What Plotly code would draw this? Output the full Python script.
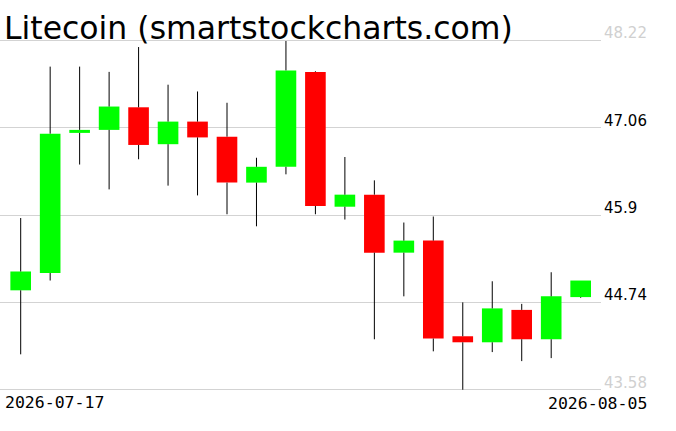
import plotly.graph_objects as go

dates = ["2026-07-17", "2026-07-18", "2026-07-19", "2026-07-20", "2026-07-21",
         "2026-07-22", "2026-07-23", "2026-07-24", "2026-07-25", "2026-07-26",
         "2026-07-27", "2026-07-28", "2026-07-29", "2026-07-30", "2026-07-31",
         "2026-08-01", "2026-08-02", "2026-08-03", "2026-08-04", "2026-08-05"]
opens  = [44.90, 45.13, 46.99, 47.03, 47.33, 46.84, 47.14, 46.94, 46.33, 46.54,
          47.80, 46.01, 46.17, 45.40, 45.56, 44.29, 44.21, 44.64, 44.25, 44.81]
highs  = [45.86, 47.87, 47.87, 47.80, 48.13, 47.63, 47.54, 47.39, 46.66, 48.21,
          47.81, 46.67, 46.36, 45.80, 45.88, 44.74, 45.02, 44.72, 45.14, 45.03]
lows   = [44.05, 45.03, 46.57, 46.24, 46.64, 46.29, 46.16, 45.91, 45.75, 46.44,
          45.91, 45.84, 44.25, 44.82, 44.09, 43.58, 44.08, 43.96, 44.00, 44.80]
closes = [45.15, 46.98, 47.03, 47.34, 46.83, 47.14, 46.93, 46.33, 46.54, 47.82,
          46.02, 46.17, 45.40, 45.56, 44.26, 44.21, 44.66, 44.25, 44.82, 45.03]

tick_vals = [43.58, 44.74, 45.90, 47.06, 48.22]
tick_text = ["43.58", "44.74", "45.9", "47.06", "48.22"]
tick_colors = ["#d0d0d0", "#000000", "#000000", "#000000", "#d0d0d0"]

title_text = "Litecoin (smartstockcharts.com)"

GREEN = "#00ff00"
RED = "#ff0000"

# wick segments (split so they don't cross the bodies)
wx, wy = [], []
for d, o, h, l, c in zip(dates, opens, highs, lows, closes):
    top, bot = max(o, c), min(o, c)
    wx += [d, d, None, d, d, None]
    wy += [bot, l, None, h, top, None]

fig = go.Figure()
fig.add_trace(go.Scatter(x=wx, y=wy, mode="lines",
                         line=dict(color="black", width=1),
                         hoverinfo="skip", showlegend=False))
fig.add_trace(go.Bar(
    x=dates,
    base=[min(o, c) for o, c in zip(opens, closes)],
    y=[abs(c - o) for o, c in zip(opens, closes)],
    width=0.7,
    marker=dict(color=[GREEN if c >= o else RED for o, c in zip(opens, closes)],
                line=dict(width=0)),
    showlegend=False,
))

annotations = []
for v, t, col in zip(tick_vals, tick_text, tick_colors):
    annotations.append(dict(x=1, xref="paper", y=v, yref="y", text=t,
                            xanchor="left", yanchor="bottom", showarrow=False,
                            xshift=1, yshift=-4,
                            font=dict(family="DejaVu Sans", size=15, color=col)))
annotations.append(dict(x=0, xref="paper", y=0, yref="paper", text=dates[0],
                        xanchor="left", yanchor="top", showarrow=False,
                        xshift=3, yshift=1,
                        font=dict(family="DejaVu Sans Mono", size=16.5, color="black")))
annotations.append(dict(x=1, xref="paper", y=0, yref="paper", text=dates[-1],
                        xanchor="right", yanchor="top", showarrow=False,
                        xshift=48, yshift=0,
                        font=dict(family="DejaVu Sans Mono", size=16.5, color="black")))
annotations.append(dict(x=0, xref="paper", y=1, yref="paper", text=title_text,
                        xanchor="left", yanchor="bottom", showarrow=False,
                        xshift=2, yshift=-10,
                        font=dict(family="DejaVu Sans", size=31.5, color="black")))

fig.update_layout(
    width=676, height=431,
    margin=dict(l=0, r=75, t=38, b=39),
    paper_bgcolor="white", plot_bgcolor="white",
    bargap=0.3,
    xaxis=dict(type="category", range=[-0.702, 19.69], showgrid=False,
               showticklabels=False, showline=False, zeroline=False, ticks=""),
    yaxis=dict(range=[43.55, 48.25], tickvals=tick_vals, showticklabels=False,
               showgrid=True, gridcolor="#d3d3d3", gridwidth=1,
               zeroline=False, showline=False, ticks=""),
    annotations=annotations,
    showlegend=False,
)

fig.write_html("out.html", config={"displayModeBar": False},
               post_script="document.body.style.margin='0';document.body.style.padding='0';")
